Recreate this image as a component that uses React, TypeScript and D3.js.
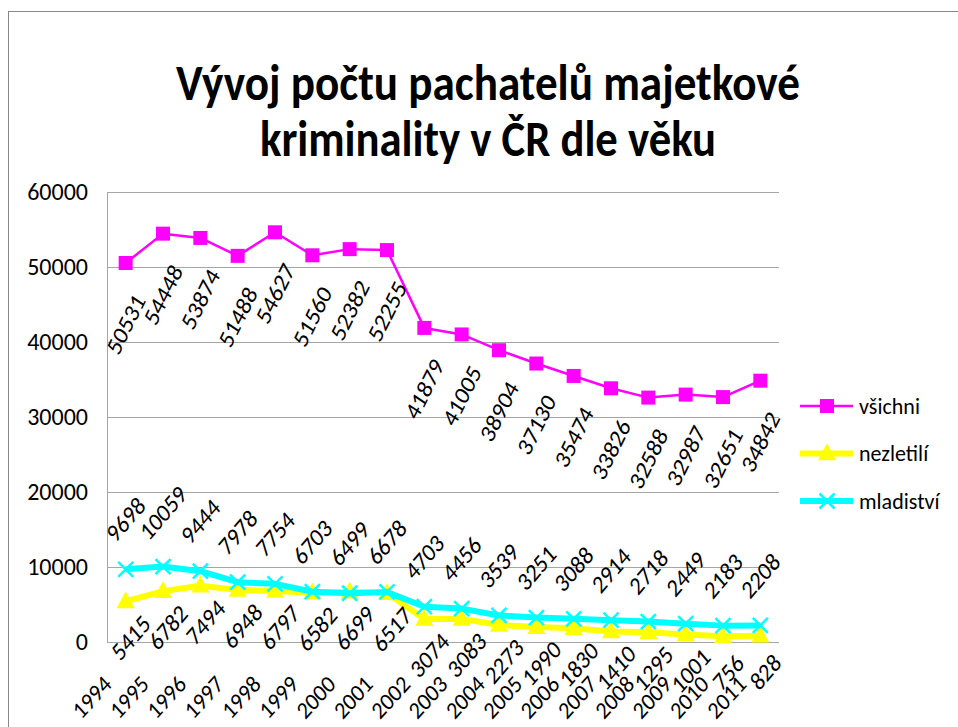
import React, { useEffect, useRef } from 'react';
import * as d3 from 'd3';

const years = ['1994', '1995', '1996', '1997', '1998', '1999', '2000', '2001', '2002', '2003', '2004', '2005', '2006', '2007', '2008', '2009', '2010', '2011'];
const vsichni = [50531, 54448, 53874, 51488, 54627, 51560, 52382, 52255, 41879, 41005, 38904, 37130, 35474, 33826, 32588, 32987, 32651, 34842];
const nezletili = [5415, 6782, 7494, 6948, 6797, 6582, 6699, 6517, 3074, 3083, 2273, 1990, 1830, 1410, 1295, 1001, 756, 828];
const mladistvi = [9698, 10059, 9444, 7978, 7754, 6703, 6499, 6678, 4703, 4456, 3539, 3251, 3088, 2914, 2718, 2449, 2183, 2208];
const yTicks = [0, 10000, 20000, 30000, 40000, 50000, 60000];
const titleLines = ['Vývoj počtu pachatelů majetkové', 'kriminality v ČR dle věku'];

const FONT = "Carlito, Calibri, Lato, 'Open Sans', sans-serif";

const squarePath = (s: number) => `M${-s / 2},${-s / 2}h${s}v${s}h${-s}Z`;
const trianglePath = (w: number, h: number) => `M0,${-h * 0.6}L${w / 2},${h * 0.4}L${-w / 2},${h * 0.4}Z`;
const xPath = (s: number) => `M${-s / 2},${-s / 2}L${s / 2},${s / 2}M${s / 2},${-s / 2}L${-s / 2},${s / 2}`;

const App: React.FC = () => {
	const svgRef = useRef<SVGSVGElement | null>(null);

	useEffect(() => {
		if (!svgRef.current) return;
		const width = 958;
		const height = 727;
		const left = 107;
		const right = 779;
		const top = 192;
		const bottom = 642;

		const svg = d3.select(svgRef.current);
		svg.selectAll('*').remove();
		svg.attr('width', width).attr('height', height).style('font-family', FONT);

		const x = d3.scaleBand<string>().domain(years).range([left, right]);
		const cx = (d: string) => (x(d) ?? 0) + x.bandwidth() / 2;
		const y = d3.scaleLinear().domain([0, 60000]).range([bottom, top]);

		svg.append('rect').attr('width', width).attr('height', height).attr('fill', 'white');

		// chart frame
		svg
			.append('rect')
			.attr('x', 8.5)
			.attr('y', 11.5)
			.attr('width', 1000)
			.attr('height', 800)
			.attr('fill', 'none')
			.attr('stroke', '#888');

		// title
		svg
			.append('g')
			.selectAll('text')
			.data(titleLines)
			.join('text')
			.attr('x', 488)
			.attr('y', (d, i) => 100 + i * 56)
			.attr('text-anchor', 'middle')
			.attr('font-weight', 'bold')
			.attr('font-size', 50)
			.attr('textLength', (d, i) => (i === 0 ? 624 : 456))
			.attr('lengthAdjust', 'spacingAndGlyphs')
			.text((d) => d);

		// grid
		svg
			.append('g')
			.selectAll('line')
			.data(yTicks)
			.join('line')
			.attr('x1', left)
			.attr('x2', right)
			.attr('y1', (d) => Math.round(y(d)) + 0.5)
			.attr('y2', (d) => Math.round(y(d)) + 0.5)
			.attr('stroke', '#a6a6a6');

		svg
			.append('line')
			.attr('x1', left + 0.5)
			.attr('x2', left + 0.5)
			.attr('y1', top)
			.attr('y2', bottom)
			.attr('stroke', '#a6a6a6');

		svg
			.append('g')
			.selectAll('text')
			.data(yTicks)
			.join('text')
			.attr('x', 88)
			.attr('y', (d) => y(d))
			.attr('dy', '0.35em')
			.attr('text-anchor', 'end')
			.attr('font-size', 24)
			.text((d) => String(d));

		// rotated text centred on a point (slightly stretched vertically like the original)
		const rotLabel = (
			g: d3.Selection<SVGGElement, unknown, null, undefined>,
			t: string,
			px: number,
			py: number,
			angle = -45,
			k = 1.16,
		) =>
			g
				.append('text')
				.attr('text-anchor', 'middle')
				.attr('dy', '0.35em')
				.attr('transform', `translate(${px},${py}) scale(1,${k}) rotate(${angle})`)
				.text(t);

		const xLab = svg.append('g').attr('font-size', 22);
		years.forEach((d) => rotLabel(xLab, d, cx(d) - 34, 697, -45, 1.1));

		const series = [
			{ name: 'všichni', values: vsichni, color: '#ff00ff', width: 2.5, marker: 'square' },
			{ name: 'nezletilí', values: nezletili, color: '#ffff00', width: 6, marker: 'triangle' },
			{ name: 'mladiství', values: mladistvi, color: '#00ffff', width: 6, marker: 'x' },
		];

		const line = d3
			.line<number>()
			.x((d, i) => cx(years[i]))
			.y((d) => y(d));

		const drawMarker = (g: d3.Selection<SVGGElement, unknown, null, undefined>, kind: string, color: string) => {
			if (kind === 'square') g.append('path').attr('d', squarePath(14)).attr('fill', color);
			else if (kind === 'triangle') g.append('path').attr('d', trianglePath(18, 17)).attr('fill', color);
			else g.append('path').attr('d', xPath(15)).attr('stroke', color).attr('stroke-width', 2.5).attr('fill', 'none');
		};

		series.forEach((s) => {
			svg
				.append('path')
				.datum(s.values)
				.attr('d', line)
				.attr('fill', 'none')
				.attr('stroke', s.color)
				.attr('stroke-width', s.width)
				.attr('stroke-linejoin', 'round');
			s.values.forEach((v, i) => {
				const g = svg.append('g').attr('transform', `translate(${cx(years[i])},${y(v)})`);
				drawMarker(g, s.marker, s.color);
			});
		});

		// data labels
		const labels = svg.append('g').attr('font-size', 22).attr('fill', 'black');
		vsichni.forEach((v, i) => rotLabel(labels, String(v), cx(years[i]), y(v) + 61, -60));
		nezletili.forEach((v, i) => rotLabel(labels, String(v), cx(years[i]) + 5, y(v) + 36));
		mladistvi.forEach((v, i) => {
			const n = String(v).length;
			rotLabel(labels, String(v), cx(years[i]), y(v) - 50 - (n - 4) * 4);
		});

		// legend
		const legend = svg.append('g');
		series.forEach((s, i) => {
			const ly = 406 + i * 47.5;
			legend
				.append('line')
				.attr('x1', 800)
				.attr('x2', 853)
				.attr('y1', ly)
				.attr('y2', ly)
				.attr('stroke', s.color)
				.attr('stroke-width', s.width);
			const g = legend.append('g').attr('transform', `translate(827,${ly})`);
			drawMarker(g, s.marker, s.color);
			legend
				.append('text')
				.attr('x', 859)
				.attr('y', ly)
				.attr('dy', '0.35em')
				.attr('font-size', 22)
				.text(s.name);
		});
	}, []);

	return <svg ref={svgRef} style={{ position: 'absolute', left: 0, top: 0, display: 'block' }}></svg>;
};

export default App;
